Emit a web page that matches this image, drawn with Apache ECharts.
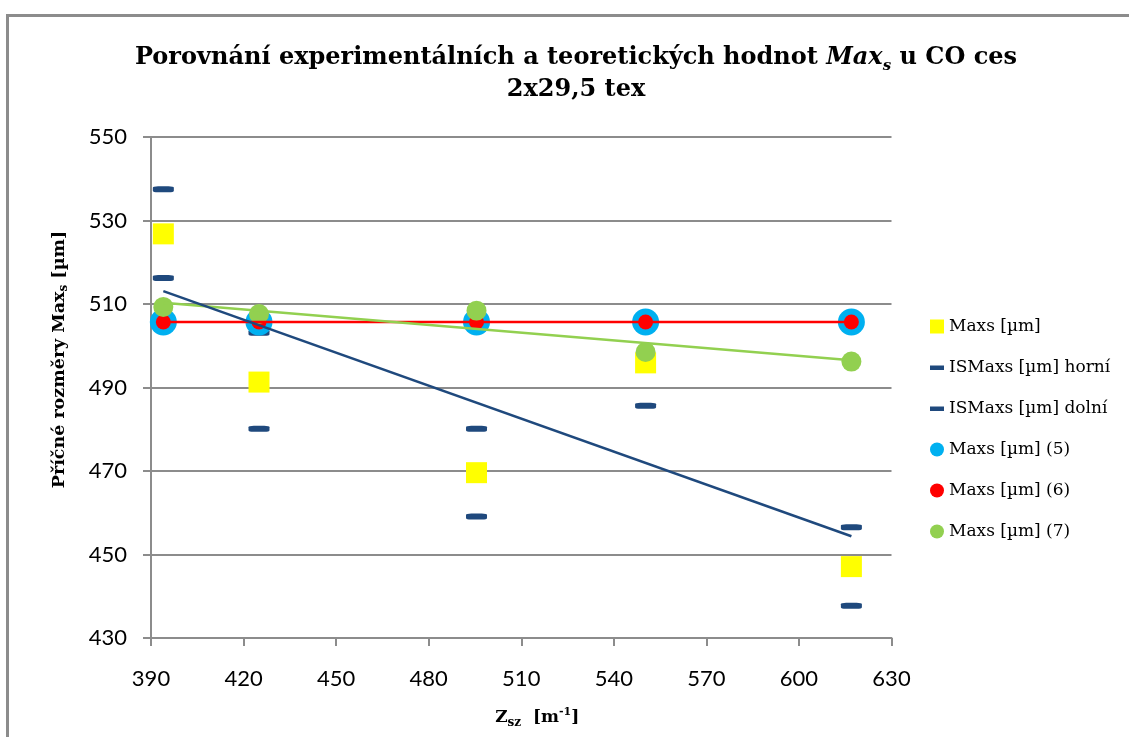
<!DOCTYPE html>
<html>
<head>
<meta charset="utf-8">
<script src="https://cdn.jsdelivr.net/npm/echarts@6/dist/echarts.min.js"></script>
<style>
  html, body { margin: 0; padding: 0; background: #fff; }
  #chart { width: 1129px; height: 737px; }
</style>
</head>
<body>
<div id="chart"></div>
<script>
// Zsz [m-1]
var zsz = [394, 425, 495.5, 550.3, 617];
// experimentální hodnoty a interval spolehlivosti
var maxs = [526.8, 491.3, 469.6, 495.9, 447.1];
var isHorni = [537.5, 503.1, 480.1, 506.2, 456.5];
var isDolni = [516.2, 480.1, 459.1, 485.6, 437.7];
// teoretické hodnoty
var maxs5 = [505.7, 505.7, 505.7, 505.7, 505.7];
var maxs6 = [505.7, 505.7, 505.7, 505.7, 505.7];
var maxs7 = [509.3, 507.6, 508.4, 498.5, 496.2];

var legendNames = ["Maxs [µm]", "ISMaxs [µm] horní", "ISMaxs [µm] dolní",
  "Maxs [µm] (5)", "Maxs [µm] (6)", "Maxs [µm] (7)"];

function pairs(xs, ys) {
  return xs.map(function (x, i) { return [x, ys[i]]; });
}

// lineární spojnice trendu (jako v Excelu)
function trend(xs, ys) {
  var n = xs.length, mx = 0, my = 0, sxx = 0, sxy = 0;
  for (var i = 0; i < n; i++) { mx += xs[i]; my += ys[i]; }
  mx /= n; my /= n;
  for (var j = 0; j < n; j++) {
    sxx += (xs[j] - mx) * (xs[j] - mx);
    sxy += (xs[j] - mx) * (ys[j] - my);
  }
  var k = sxy / sxx;
  var x0 = xs[0], x1 = xs[n - 1];
  return [[x0, my + k * (x0 - mx)], [x1, my + k * (x1 - mx)]];
}

var dashIcon = "path://M0,0M14,14M0,5L14,5L14,9.5L0,9.5Z";
var serif = "'DejaVu Serif'";

var chart = echarts.init(document.getElementById("chart"));
chart.setOption({
  animation: false,
  graphic: [{
    type: "rect",
    shape: { x: 7.5, y: 15.5, width: 1300, height: 900 },
    style: { fill: "none", stroke: "#8c8c8c", lineWidth: 3 },
    z: -10
  }],
  title: {
    text: "{b|Porovnání experimentálních a teoretických hodnot }{i|Max}{s|s}{b| u CO ces}\n{b|2x29,5 tex}",
    left: 571,
    top: 37,
    textAlign: "center",
    textStyle: {
      rich: {
        b: { fontFamily: serif, fontWeight: "bold", fontSize: 24, lineHeight: 32, color: "#000" },
        i: { fontFamily: serif, fontWeight: "bold", fontStyle: "italic", fontSize: 24, lineHeight: 32, color: "#000" },
        s: { fontFamily: serif, fontWeight: "bold", fontStyle: "italic", fontSize: 15, lineHeight: 12, verticalAlign: "bottom", color: "#000" }
      }
    }
  },
  legend: {
    orient: "vertical",
    left: 925,
    top: 313,
    itemWidth: 14,
    itemHeight: 14,
    itemGap: 24,
    textStyle: { fontFamily: serif, fontSize: 17, color: "#000" },
    data: [
      { name: legendNames[0], icon: "rect" },
      { name: legendNames[1], icon: dashIcon },
      { name: legendNames[2], icon: dashIcon },
      { name: legendNames[3], icon: "circle" },
      { name: legendNames[4], icon: "circle" },
      { name: legendNames[5], icon: "circle" }
    ]
  },
  grid: { left: 151, right: 237.5, top: 137, bottom: 99 },
  xAxis: {
    type: "value",
    min: 390,
    max: 630,
    interval: 30,
    name: "{b|Z}{s|sz}{b|  [m}{u|-1}{b|]}",
    nameLocation: "middle",
    nameGap: 69,
    nameTextStyle: {
      padding: [0, 0, 0, 32],
      rich: {
        b: { fontFamily: serif, fontWeight: "bold", fontSize: 17, lineHeight: 22, color: "#000" },
        s: { fontFamily: serif, fontWeight: "bold", fontSize: 12, lineHeight: 10, verticalAlign: "bottom", color: "#000" },
        u: { fontFamily: serif, fontWeight: "bold", fontSize: 11, lineHeight: 12, verticalAlign: "top", color: "#000" }
      }
    },
    axisLine: { lineStyle: { color: "#8c8c8c", width: 2 } },
    axisTick: { length: 8, lineStyle: { color: "#8c8c8c", width: 2 } },
    axisLabel: { margin: 30, fontFamily: "Lato", fontSize: 22, color: "#000" },
    splitLine: { show: false }
  },
  yAxis: {
    type: "value",
    min: 430,
    max: 550,
    interval: 20,
    name: "{b|Příčné rozměry Max}{s|s}{b| [µm]}",
    nameLocation: "middle",
    nameRotate: 90,
    nameGap: 81,
    nameTextStyle: {
      padding: [0, 0, 0, 56],
      rich: {
        b: { fontFamily: serif, fontWeight: "bold", fontSize: 17.5, lineHeight: 21, color: "#000" },
        s: { fontFamily: serif, fontWeight: "bold", fontSize: 12, lineHeight: 8, verticalAlign: "bottom", color: "#000" }
      }
    },
    axisLine: { show: true, lineStyle: { color: "#8c8c8c", width: 2 } },
    axisTick: { show: true, length: 8, lineStyle: { color: "#8c8c8c", width: 2 } },
    axisLabel: { margin: 24, fontFamily: "Lato", fontSize: 22, color: "#000" },
    splitLine: { lineStyle: { color: "#8c8c8c", width: 2 } }
  },
  series: [
    {
      name: legendNames[0], type: "scatter", symbol: "rect", symbolSize: 21,
      itemStyle: { color: "#ffff00", opacity: 1 }, data: pairs(zsz, maxs), z: 2
    },
    {
      name: legendNames[1], type: "scatter", symbol: "roundRect", symbolSize: [21, 6],
      itemStyle: { color: "#1f497d", opacity: 1 }, data: pairs(zsz, isHorni), z: 2
    },
    {
      name: legendNames[2], type: "scatter", symbol: "roundRect", symbolSize: [21, 6],
      itemStyle: { color: "#1f497d", opacity: 1 }, data: pairs(zsz, isDolni), z: 2
    },
    {
      name: legendNames[3], type: "scatter", symbol: "circle", symbolSize: 27,
      itemStyle: { color: "#00b0f0", opacity: 1 }, data: pairs(zsz, maxs5), z: 3
    },
    {
      name: legendNames[4], type: "scatter", symbol: "circle", symbolSize: 15,
      itemStyle: { color: "#ff0000", opacity: 1 }, data: pairs(zsz, maxs6), z: 4
    },
    {
      name: legendNames[5], type: "scatter", symbol: "circle", symbolSize: 20,
      itemStyle: { color: "#92d050", opacity: 1 }, data: pairs(zsz, maxs7), z: 5
    },
    {
      name: "trend6", type: "line", showSymbol: false, silent: true,
      lineStyle: { color: "#ff0000", width: 2.5 }, data: trend(zsz, maxs6), z: 6
    },
    {
      name: "trend7", type: "line", showSymbol: false, silent: true,
      lineStyle: { color: "#92d050", width: 2.5 }, data: trend(zsz, maxs7), z: 6
    },
    {
      name: "trendMaxs", type: "line", showSymbol: false, silent: true,
      lineStyle: { color: "#1f497d", width: 2.5 }, data: trend(zsz, maxs), z: 6
    }
  ]
});
</script>
</body>
</html>
